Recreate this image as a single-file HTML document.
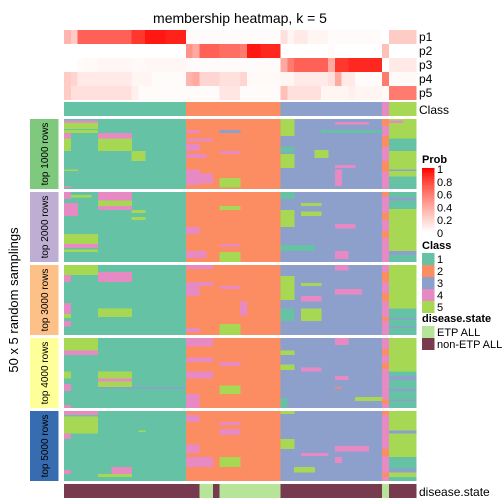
<!DOCTYPE html>
<html><head><meta charset="utf-8"><style>
body{margin:0;background:#fff}
svg{display:block;font-family:"Liberation Sans",sans-serif}
</style></head><body>
<svg id="chart" width="504" height="504" viewBox="0 0 504 504">
<text x="240" y="23" font-size="14" text-anchor="middle">membership heatmap, k = 5</text>
<text transform="translate(18,300) rotate(-90)" font-size="13" text-anchor="middle">50 x 5 random samplings</text>
<g id="top"></g><g id="body"></g><g id="labels"></g><g id="legend"></g>
</svg>
<script>
// ----- data -----
const classes = [1,1,1,1,1,1,1,1,1,1,1,1,1,1,1,1,1,1, 2,2,2,2,2,2,2,2,2,2,2,2,2,2, 3,3,3,3,3,3,3,3,3,3,3,3,3,3,3, 4, 5,5,5,5];
const p1 = [0.35,0.25,0.7,0.7,0.7,0.7,0.7,0.7,0.7,0.7,0.85,0.85,0.95,0.95,0.95,0.92,0.92,0.92, 0.02,0.02,0.02,0.02,0.02,0.02,0.02,0.02,0.02,0.02,0.02,0.02,0.02,0.02, 0.15,0.05,0.1,0.1,0.05,0.05,0.05,0.02,0.02,0.02,0.02,0.02,0.02,0.02,0.02, 0.0, 0.25,0.25,0.25,0.25];
const p2 = [0,0,0,0,0,0,0,0,0,0,0,0,0,0,0,0,0,0, 0.5,0.4,0.7,0.7,0.7,0.65,0.65,0.65,0.6,0.95,0.95,0.9,0.9,0.9, 0,0,0,0,0,0,0,0.02,0,0,0,0,0,0,0, 0.3, 0,0,0,0];
const p3 = [0,0,0.02,0.03,0.03,0.04,0.04,0.04,0.04,0.04,0.03,0.03,0.04,0.04,0.04,0.04,0.04,0.04, 0.03,0.02,0.02,0.02,0.02,0.02,0.02,0.02,0.02,0.02,0.02,0.02,0.02,0.02, 0.4,0.6,0.7,0.7,0.7,0.7,0.7,0.4,0.85,0.85,0.9,0.9,0.9,0.9,0.9, 0.0, 0.1,0.1,0.1,0.1];
const p4 = [0.25,0.2,0.1,0.1,0.1,0.1,0.1,0.1,0.1,0.1,0.05,0.05,0.05,0.02,0.02,0.02,0.02,0.02, 0.35,0.4,0.2,0.2,0.2,0.15,0.15,0.15,0.2,0.03,0.03,0.03,0.03,0.03, 0.05,0.05,0.1,0.1,0.1,0.1,0.1,0.15,0.4,0.1,0.1,0.02,0.02,0.02,0.02, 0.6, 0.03,0.03,0.03,0.03];
const p5 = [0.25,0.15,0.15,0.15,0.15,0.15,0.15,0.15,0.15,0.15,0.08,0.02,0.02,0.02,0.02,0.02,0.02,0.02, 0.02,0.02,0.02,0.02,0.02,0.12,0.12,0.12,0.02,0.02,0.02,0.02,0.02,0.02, 0.3,0.15,0.15,0.15,0.15,0.15,0.05,0.05,0.05,0.05,0.08,0.05,0.05,0.05,0.05, 0.03, 0.6,0.6,0.6,0.6];
const disease = [0,0,0,0,0,0,0,0,0,0,0,0,0,0,0,0,0,0,0,0, 1,1,0,1,1,1,1,1,1,1,1,1, 0,0,0,0,0,0,0,0,0,0,0,0,0,0,0, 1, 0,0,0,0];
const blockLabels = ["top 1000 rows","top 2000 rows","top 3000 rows","top 4000 rows","top 5000 rows"];
// overrides: [block, rowStart, rowEnd, colStart, colEnd(excl), class]
const overrides = [
 [0,1,3,0,5,4],[0,3,7,0,5,5],[0,8,10,0,5,5],[0,10,14,0,1,4],[0,10,14,5,10,4],[0,14,23,0,1,5],[0,14,23,5,10,5],[0,23,30,10,12,5],[0,36,37,0,2,5],[0,48,49,0,1,4],
 [0,8,10,18,20,4],[0,8,10,23,26,3],[0,14,16,18,22,4],[0,18,23,18,20,4],[0,25,28,18,21,4],[0,36,47,18,20,4],[0,39,46,20,22,4],[0,42,49,23,26,5],[0,23,25,23,26,4],
 [0,0,12,32,34,5],[0,20,24,32,34,1],[0,25,35,32,34,5],[0,33,35,40,43,4],[0,36,48,40,41,4],[0,22,28,37,39,5],[0,8,10,38,47,1],[0,2,4,40,45,4],
 [0,0,5,47,48,2],[0,12,20,47,48,2],[0,30,38,47,48,2],
 [0,0,14,48,52,5],[0,14,23,48,52,1],[0,23,36,48,52,5],[0,36,37,48,52,3],[0,37,41,48,52,5],[0,41,50,48,52,1],[0,1,3,48,50,4],
 [1,0,5,0,1,4],[1,2,4,1,4,5],[1,0,6,5,10,4],[1,6,10,5,10,5],[1,10,13,5,10,4],[1,8,17,0,2,4],[1,30,37,0,5,5],[1,37,40,0,5,4],[1,41,43,0,5,5],[1,13,15,10,12,5],[1,18,20,10,12,5],
 [1,25,30,18,20,4],[1,42,47,18,21,4],[1,43,50,23,26,5],[1,10,13,23,26,5],[1,37,39,23,26,4],
 [1,13,25,32,34,5],[1,0,5,32,34,1],[1,38,42,32,37,1],[1,8,10,35,38,5],[1,42,48,40,42,4],[1,23,26,40,43,4],[1,14,17,35,38,5],
 [1,0,3,47,48,2],[1,15,20,47,48,2],[1,28,33,47,48,2],
 [1,0,12,48,52,1],[1,4,6,48,52,3],[1,12,42,48,52,5],[1,42,45,48,52,3],[1,45,50,48,52,1],
 [2,0,7,0,5,5],[2,5,12,5,10,4],[2,7,12,0,1,4],[2,27,35,0,1,4],[2,31,37,5,10,5],[2,35,38,0,1,5],[2,40,44,0,1,4],
 [2,0,3,18,22,4],[2,12,15,18,22,4],[2,15,22,18,20,4],[2,15,17,23,26,4],[2,26,36,26,27,4],[2,42,50,23,26,5],[2,45,48,18,20,4],
 [2,8,25,32,34,5],[2,22,26,35,38,4],[2,31,40,35,38,5],[2,0,4,40,42,4],[2,17,21,40,44,4],[2,31,40,32,34,1],[2,13,15,35,38,5],
 [2,5,12,47,48,2],[2,20,26,47,48,2],[2,37,40,47,48,2],
 [2,0,31,48,52,5],[2,31,50,48,52,1],[2,38,39,48,52,3],[2,44,45,48,52,3],
 [3,0,9,0,5,5],[3,9,12,0,5,4],[3,24,29,0,1,5],[3,24,29,5,10,5],[3,29,31,5,10,4],[3,31,35,5,10,5],[3,35,36,5,18,3],[3,33,38,0,1,4],[3,48,50,0,1,4],
 [3,0,6,18,22,4],[3,14,17,18,22,4],[3,24,29,18,22,4],[3,17,20,23,26,4],[3,34,40,23,26,5],[3,40,50,18,20,4],
 [3,9,12,32,34,5],[3,19,23,32,34,5],[3,21,24,35,38,4],[3,0,5,40,42,4],[3,27,30,40,42,4],[3,42,45,43,47,5],[3,35,36,40,41,2],[3,43,50,32,33,1],
 [3,8,12,47,48,2],[3,18,22,47,48,2],[3,44,47,47,48,2],
 [3,0,24,48,52,5],[3,24,50,48,52,1],[3,27,30,48,52,3],[3,36,38,48,52,3],[3,44,45,48,52,3],
 [4,0,3,0,5,4],[4,4,16,0,5,5],[4,16,20,0,1,4],[4,42,45,0,1,4],[4,14,15,11,12,5],[4,40,45,7,10,4],[4,45,47,5,10,5],
 [4,3,8,18,20,4],[4,8,10,23,26,4],[4,24,30,18,20,4],[4,33,40,18,22,4],[4,33,40,23,26,5],[4,13,17,23,26,4],
 [4,0,2,32,34,5],[4,20,27,32,34,5],[4,40,44,34,37,5],[4,30,32,35,39,4],[4,33,37,40,41,4],[4,25,29,40,45,4],
 [4,0,3,47,48,2],[4,27,32,47,48,2],[4,44,47,47,48,2],
 [4,0,14,48,52,5],[4,14,16,48,52,3],[4,16,33,48,52,5],[4,33,41,48,52,1],[4,41,44,48,52,3],[4,44,47,48,52,5],[4,47,50,48,52,1]
];
// ----- rendering -----
const NS = "http://www.w3.org/2000/svg";
const colors = {1:"#66C2A5",2:"#FC8D62",3:"#8DA0CB",4:"#E78AC3",5:"#A6D854"};
const X0 = 64, X1 = 416, cw = (X1-X0)/classes.length;
const xAt = c => X0 + c*cw;
const blockY = [119,192,265,338,411], blockH = 70, rowH = blockH/50;
const yAt = (b,r) => blockY[b] + r*rowH;
function probColor(v){
  const g = Math.round(255*Math.pow(1-v,0.8)), bl = Math.round(255*Math.pow(1-v,0.9));
  return `rgb(255,${Math.min(255,g)},${Math.min(255,bl)})`;
}
function rect(parent,x,y,w,h,fill){
  const r = document.createElementNS(NS,"rect");
  r.setAttribute("x",x);r.setAttribute("y",y);r.setAttribute("width",w+0.3);r.setAttribute("height",h);
  r.setAttribute("fill",fill);r.setAttribute("shape-rendering","crispEdges");
  parent.appendChild(r);return r;
}
function text(parent,x,y,s,size,anchor){
  const t = document.createElementNS(NS,"text");
  t.setAttribute("x",x);t.setAttribute("y",y);t.setAttribute("font-size",size);
  if(anchor) t.setAttribute("text-anchor",anchor);
  t.textContent = s;parent.appendChild(t);return t;
}
const topG = document.getElementById("top");
const probs = [p1,p2,p3,p4,p5];
const probY = [30,44,58,72,86];
probs.forEach((arr,i)=>{
  arr.forEach((v,c)=>{
    const r = rect(topG,xAt(c),probY[i],cw,14,probColor(v));
    
    
  });
  const t = text(topG,419,probY[i]+11,"p"+(i+1),12);
  
  
});
classes.forEach((k,c)=>{
  const r = rect(topG,xAt(c),102,cw,14,colors[k]);
  
  
});
const ct = text(topG,419,114,"Class",12);



const bodyG = document.getElementById("body");
const blockCols = ["#7FC97F","#BEAED4","#FDC086","#FFFF99","#386CB0"];
for(let b=0;b<5;b++){
  const g = document.createElementNS(NS,"g");
  
  
  bodyG.appendChild(g);
  classes.forEach((k,c)=>{
    const r = rect(g,xAt(c),blockY[b],cw,blockH,colors[k]);
    
    
  });
  overrides.filter(o=>o[0]===b).forEach(o=>{
    const r = rect(g,xAt(o[3]),yAt(b,o[1]),(o[4]-o[3])*cw,(o[2]-o[1])*rowH,colors[o[5]]);
    
    
  });
  const lb = rect(bodyG,30,blockY[b],28,blockH,blockCols[b]);
  
  
  const t = text(bodyG,0,0,blockLabels[b],10,"middle");
  t.setAttribute("transform",`translate(48,${blockY[b]+blockH/2}) rotate(-90)`);
  
  
}
disease.forEach((d,c)=>{
  const r = rect(bodyG,xAt(c),484,cw,14,d?"#B6E599":"#773A4F");
  
  
});
const dt = text(bodyG,419,496,"disease.state",12);



// legend
const lg = document.getElementById("legend");
const lt = text(lg,422,163,"Prob",11);lt.setAttribute("font-weight","bold");


for(let i=0;i<50;i++){
  const v = 1 - i/49;
  rect(lg,422,168+i*1.3,12,1.4,probColor(v));
}
["1","0.8","0.6","0.4","0.2","0"].forEach((s,i)=>{
  const y = 169 + i*12.8;
  const t = text(lg,437,y+4,s,11);
  
  
});
const cl = text(lg,422,249,"Class",11);cl.setAttribute("font-weight","bold");


[1,2,3,4,5].forEach((k,i)=>{
  const r = rect(lg,422,253+i*12,12,12,colors[k]);
  
  
  const t = text(lg,437,263+i*12,String(k),11);
  
  
});
const ds = text(lg,422,322,"disease.state",11);ds.setAttribute("font-weight","bold");


[["ETP ALL","#B6E599"],["non-ETP ALL","#773A4F"]].forEach((e,i)=>{
  const r = rect(lg,422,326+i*12,12,12,e[1]);
  
  
  const t = text(lg,437,336+i*12,e[0],11);
  
  
});
</script>
</body></html>
